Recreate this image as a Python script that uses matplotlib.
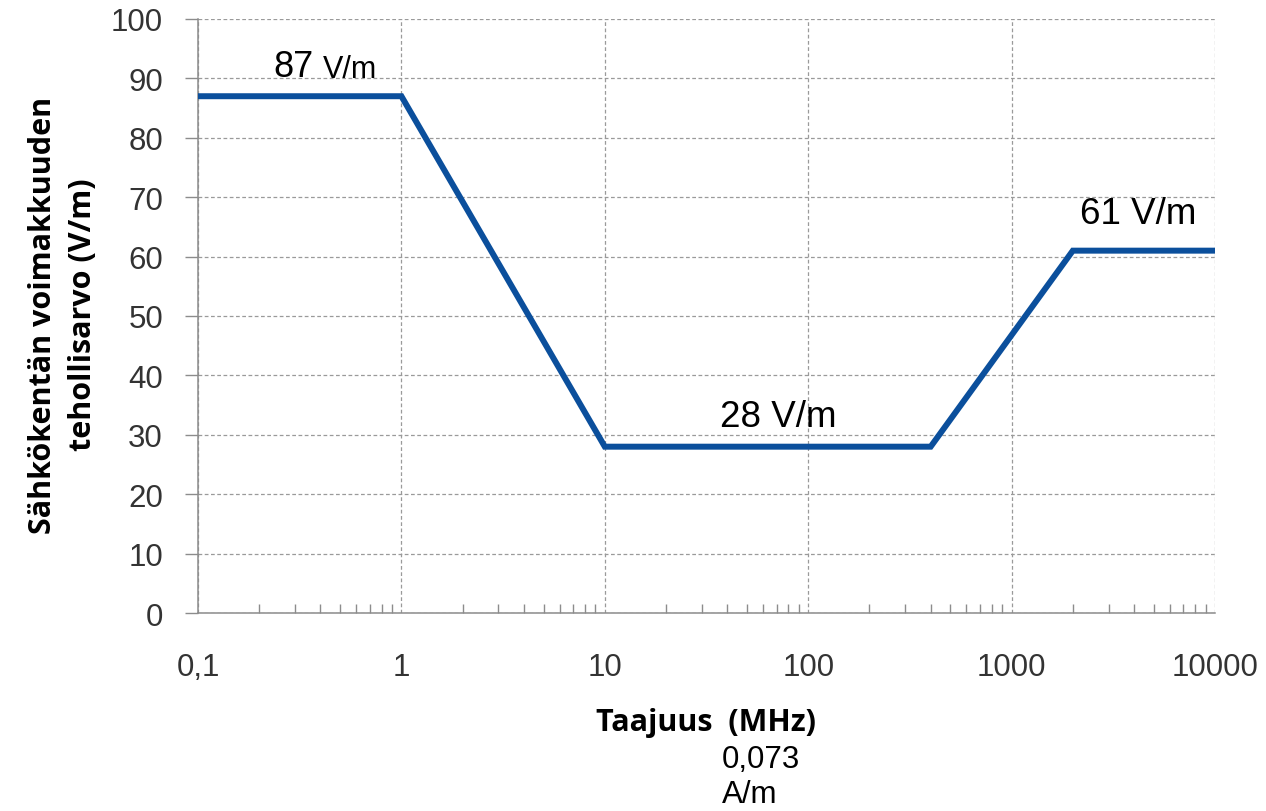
import matplotlib
matplotlib.use("Agg")
import matplotlib.pyplot as plt
import matplotlib.ticker as ticker

# Data
freq_mhz = [0.1, 1, 10, 400, 2000, 10000]
field_vm = [87, 87, 28, 28, 61, 61]

x_ticks = [0.1, 1, 10, 100, 1000, 10000]
x_tick_labels = ["0,1", "1", "10", "100", "1000", "10000"]
y_ticks = list(range(0, 101, 10))

line_color = "#0B4F9C"
axis_gray = "#8C8C8C"
px = 72 / 100  # points per pixel at dpi 100

plt.rcParams["font.family"] = ["Liberation Sans", "DejaVu Sans"]

fig = plt.figure(figsize=(12.66, 8.12), dpi=100)
ax = fig.add_axes([198 / 1266, 1 - 614 / 812, (1215 - 198) / 1266, (614 - 20) / 812])

ax.plot(freq_mhz, field_vm, color=line_color, linewidth=4.3,
        solid_joinstyle="miter", solid_capstyle="butt", zorder=3, clip_on=False)

ax.set_xscale("log")
ax.set_xlim(0.1, 10000)
ax.set_ylim(0, 100)

ax.set_xticks(x_ticks)
ax.set_xticklabels(x_tick_labels)
ax.xaxis.set_minor_locator(ticker.LogLocator(base=10, subs=range(2, 10), numticks=20))
ax.xaxis.set_minor_formatter(ticker.NullFormatter())
ax.set_yticks(y_ticks)

ax.grid(True, which="major", linestyle=(0, (3, 2)), color="#9A9A9A", linewidth=0.9)
ax.set_axisbelow(True)

for s in ["top", "right"]:
    ax.spines[s].set_visible(False)
for s in ["left", "bottom"]:
    ax.spines[s].set_color(axis_gray)
    ax.spines[s].set_linewidth(1.1)

ax.tick_params(axis="x", which="major", length=0, pad=39 * px, labelsize=22.5, labelcolor="#333333")
ax.tick_params(axis="x", which="minor", direction="in", length=9 * px, color=axis_gray, width=1)
ax.tick_params(axis="y", which="major", direction="out", length=13 * px, color=axis_gray,
               width=1, pad=22 * px, labelsize=22.5, labelcolor="#333333")
for t in ax.yaxis.get_major_ticks():
    t.tick1line.set_linestyle((0, (3, 2)))

ax.set_xlabel("Taajuus  (MHz)", fontsize=22, fontweight="bold",
              family=["Open Sans", "DejaVu Sans"], labelpad=18)
fig.text(63 / 1266, 1 - 315 / 812, "Sähkökentän voimakkuuden\ntehollisarvo (V/m)",
         rotation=90, ha="center", va="center", fontsize=22, fontweight="bold",
         family=["Open Sans", "DejaVu Sans"], linespacing=1.45)

# Level annotations
ax.text(0.234, 92.0, "87", fontsize=26, va="center", ha="left")
ax.text(0.41, 91.6, "V/m", fontsize=22, va="center", ha="left")
ax.text(36.8, 33.0, "28 V/m", fontsize=26.5, va="center", ha="left")
ax.text(2170, 67.3, "61 V/m", fontsize=26.5, va="center", ha="left")

fig.text(722 / 1266, 1 - 760 / 812, "0,073", fontsize=22.5, va="center", ha="left")
fig.text(722 / 1266, 1 - 795 / 812, "A/m", fontsize=22.5, va="center", ha="left")

fig.savefig("out.png", dpi=100)
